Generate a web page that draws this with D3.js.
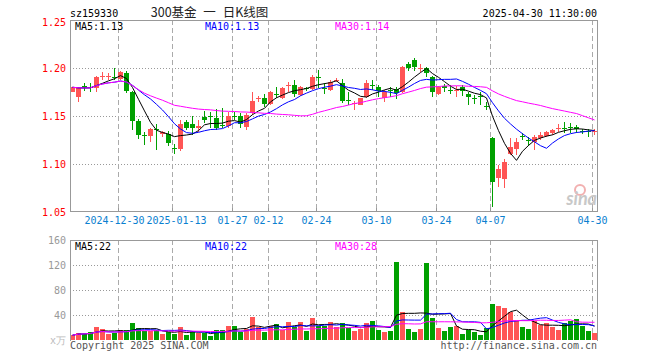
<!DOCTYPE html>
<html>
<head>
<meta charset="utf-8">
<script src="https://cdn.jsdelivr.net/npm/d3@7"></script>
<style>
body { margin: 0; background: #fff; }
svg { display: block; }
text { font-family: "DejaVu Sans Mono", monospace; font-size: 10px; }
</style>
</head>
<body>
<div id="chart"></div>
<script>
// daily bars, 2024-12-18 .. 2025-04-30
var dates = [
  "2024-12-18","2024-12-19","2024-12-20","2024-12-23","2024-12-24","2024-12-25","2024-12-26","2024-12-27",
  "2024-12-30","2024-12-31","2025-01-02","2025-01-03","2025-01-06","2025-01-07","2025-01-08","2025-01-09",
  "2025-01-10","2025-01-13","2025-01-14","2025-01-15","2025-01-16","2025-01-17","2025-01-20","2025-01-21",
  "2025-01-22","2025-01-23","2025-01-24","2025-01-27","2025-02-05","2025-02-06","2025-02-07","2025-02-10",
  "2025-02-11","2025-02-12","2025-02-13","2025-02-14","2025-02-17","2025-02-18","2025-02-19","2025-02-20",
  "2025-02-21","2025-02-24","2025-02-25","2025-02-26","2025-02-27","2025-02-28","2025-03-03","2025-03-04",
  "2025-03-05","2025-03-06","2025-03-07","2025-03-10","2025-03-11","2025-03-12","2025-03-13","2025-03-14",
  "2025-03-17","2025-03-18","2025-03-19","2025-03-20","2025-03-21","2025-03-24","2025-03-25","2025-03-26",
  "2025-03-27","2025-03-28","2025-03-31","2025-04-01","2025-04-02","2025-04-03","2025-04-07","2025-04-08",
  "2025-04-09","2025-04-10","2025-04-11","2025-04-14","2025-04-15","2025-04-16","2025-04-17","2025-04-18",
  "2025-04-21","2025-04-22","2025-04-23","2025-04-24","2025-04-25","2025-04-28","2025-04-29","2025-04-30"
];

var open = [
  1.1754,1.170,1.1815,1.1802,1.179,1.1912,1.1912,1.1905,1.189,1.195,1.175,1.145,1.1302,1.129,1.1365,1.131,
  1.131,1.1165,1.116,1.144,1.142,1.138,1.149,1.1495,1.148,1.141,1.140,1.150,1.150,1.139,1.153,1.168,
  1.169,1.162,1.173,1.1685,1.181,1.182,1.172,1.179,1.178,1.1905,1.179,1.177,1.187,1.184,1.1668,1.1635,
  1.1615,1.170,1.1825,1.1806,1.1684,1.1775,1.1778,1.1755,1.204,1.208,1.1995,1.1995,1.191,1.173,1.1815,1.1775,
  1.1765,1.180,1.1726,1.1685,1.1705,1.1605,1.1275,1.085,1.0845,1.110,1.1157,1.1287,1.1252,1.1233,1.1268,1.129,
  1.132,1.1378,1.1375,1.1382,1.139,1.1345,1.134,1.1335
];
var high = [
  1.1806,1.1795,1.184,1.184,1.192,1.196,1.1945,1.1997,1.197,1.197,1.176,1.147,1.133,1.137,1.142,1.134,
  1.134,1.121,1.146,1.146,1.150,1.146,1.1555,1.1545,1.157,1.158,1.154,1.154,1.1528,1.153,1.175,1.171,
  1.1726,1.176,1.1806,1.1805,1.185,1.1875,1.181,1.1806,1.1927,1.198,1.184,1.1875,1.1892,1.1885,1.1754,1.1656,
  1.169,1.1875,1.1875,1.182,1.177,1.1806,1.1806,1.2025,1.206,1.210,1.204,1.201,1.192,1.181,1.183,1.182,
  1.1816,1.182,1.1745,1.172,1.1745,1.165,1.128,1.099,1.1053,1.1268,1.1268,1.132,1.1285,1.130,1.133,1.134,
  1.1365,1.1413,1.1434,1.1425,1.1407,1.136,1.136,1.1365
];
var low = [
  1.1747,1.165,1.176,1.1754,1.175,1.188,1.1875,1.1875,1.188,1.174,1.135,1.126,1.120,1.123,1.115,1.128,
  1.119,1.110,1.114,1.135,1.130,1.133,1.1424,1.138,1.135,1.137,1.138,1.146,1.137,1.135,1.151,1.165,
  1.1597,1.161,1.1684,1.168,1.1747,1.170,1.171,1.176,1.177,1.179,1.1726,1.176,1.185,1.164,1.1615,1.156,
  1.161,1.169,1.177,1.170,1.165,1.170,1.168,1.1736,1.197,1.197,1.196,1.191,1.170,1.172,1.1747,1.173,
  1.170,1.171,1.1615,1.163,1.161,1.156,1.0555,1.0757,1.0755,1.1094,1.1094,1.125,1.119,1.1146,1.125,1.128,
  1.130,1.133,1.132,1.132,1.132,1.131,1.1285,1.130
];
var close = [
  1.1799,1.1788,1.179,1.1798,1.191,1.1917,1.1916,1.190,1.196,1.176,1.145,1.130,1.1295,1.1365,1.135,1.133,
  1.122,1.116,1.142,1.138,1.138,1.140,1.146,1.149,1.138,1.140,1.150,1.149,1.1415,1.151,1.1655,1.169,
  1.163,1.175,1.1725,1.1795,1.182,1.1726,1.1806,1.1785,1.191,1.190,1.1785,1.1858,1.188,1.1656,1.1665,1.164,
  1.1684,1.184,1.182,1.176,1.1754,1.177,1.1736,1.201,1.1997,1.2014,1.2005,1.195,1.1745,1.180,1.179,1.177,
  1.1775,1.176,1.170,1.168,1.170,1.160,1.081,1.0948,1.1018,1.118,1.1233,1.1284,1.125,1.1285,1.130,1.133,
  1.1354,1.138,1.137,1.137,1.136,1.134,1.1335,1.134
];
// volume, 万
var volume = [
  7.7,11.2,10.3,12.8,21.5,18,9.2,11.2,15.4,15.4,27.6,19.5,13.8,13.8,16.3,9.2,
  12.8,9.6,20.4,7.7,14.4,11.2,11.2,6.6,15.4,15.4,23,23,12.8,18,36.9,20.4,
  12.8,23,26.1,15.4,29.2,20.4,29.2,14.4,34.8,23,23,29.2,20.4,27.6,18.9,14.3,
  17.4,27.6,31.2,15.8,12.8,14.3,124.4,44.5,17.4,12.8,17.4,122.9,35.3,18.9,14.3,20.4,
  23,9.7,16.4,12.8,8.2,18.9,58.4,53.8,50.7,45,30.7,20.4,17.4,30.7,23.5,26.6,
  20.4,16.4,27.6,29.7,33.8,22,14.3,11.2
];

var tickDates = ["2024-12-30","2025-01-13","2025-01-27","2025-02-12","2025-02-24","2025-03-10","2025-03-24","2025-04-07","2025-04-30"];
var tickLabels = ["2024-12-30","2025-01-13","01-27","02-12","02-24","03-10","03-24","04-07","04-30"];
var priceTicks = [1.05, 1.10, 1.15, 1.20, 1.25];
var volTicks = [40, 80, 120, 160];

var width = 660,
    height = 360,
    left = 70,
    right = 597;

var up = "#ff5555", down = "#00a000";
var maColors = {5: "#000000", 10: "#0000ff", 30: "#ff00ff"};

function movingAvg(arr, n) {
  return arr.map(function(d, i) { return d3.mean(arr.slice(Math.max(0, i - n + 1), i + 1)); });
}
function trunc(v, k) {
  var m = Math.pow(10, k);
  return (Math.floor(v * m + 1e-9) / m).toFixed(k);
}

var x = d3.scalePoint()
    .domain(dates)
    .range([left, left + 6 * (dates.length - 1)]);

var yP = d3.scaleLinear().domain([1.05, 1.25]).range([212, 20]);
var yV = d3.scaleLinear().domain([0, 160]).range([340, 240]);

var svg = d3.select("#chart").append("svg")
    .attr("width", width)
    .attr("height", height);

// header
svg.append("text").attr("x", 70).attr("y", 16.5).attr("fill", "#000").text("sz159330");
svg.append("text").attr("x", 209.5).attr("y", 17).attr("text-anchor", "middle")
    .style("font-family", "'Noto Sans CJK SC', sans-serif").style("font-size", "12.5px")
    .attr("word-spacing", "4").attr("fill", "#222").text("300基金 一 日K线图");
svg.append("text").attr("x", 597).attr("y", 16.5).attr("text-anchor", "end").attr("fill", "#000").text("2025-04-30 11:30:00");

// grids
var grid = svg.append("g").attr("shape-rendering", "crispEdges");
grid.selectAll(".hp").data([1.10, 1.15, 1.20]).enter().append("line")
    .attr("x1", left).attr("x2", right)
    .attr("y1", function(d) { return Math.round(yP(d)) + 0.5; })
    .attr("y2", function(d) { return Math.round(yP(d)) + 0.5; })
    .attr("stroke", "#999").attr("stroke-dasharray", "1,2");
grid.selectAll(".hv").data([40, 80, 120]).enter().append("line")
    .attr("x1", left).attr("x2", right)
    .attr("y1", function(d) { return yV(d) + 0.5; })
    .attr("y2", function(d) { return yV(d) + 0.5; })
    .attr("stroke", "#999").attr("stroke-dasharray", "1,2");
tickDates.forEach(function(d) {
  [[20, 211], [240, 340]].forEach(function(r) {
    grid.append("line")
        .attr("x1", x(d) + 0.5).attr("x2", x(d) + 0.5)
        .attr("y1", r[0]).attr("y2", r[1])
        .attr("stroke", "#aaa").attr("stroke-dasharray", "5,3");
  });
});

// price axes
var xAxis = svg.append("g")
    .attr("transform", "translate(0,211)")
    .call(d3.axisBottom(x).tickValues(tickDates)
      .tickFormat(function(d, i) { return tickLabels[i]; })
      .tickSize(-3).tickPadding(6));
xAxis.select(".domain").remove();
xAxis.selectAll("line").attr("stroke", "#999");
xAxis.selectAll("text").attr("fill", "#0a80d0").style("font-family", "'DejaVu Sans Mono', monospace").style("font-size", "10px")
    .attr("dx", function(d, i) { return i == 0 ? -4 : i == 1 ? 4 : 0; });

var yAxis = svg.append("g")
    .attr("transform", "translate(70,0)")
    .call(d3.axisLeft(yP).tickValues(priceTicks).tickFormat(d3.format(".2f")).tickSize(0).tickPadding(4));
yAxis.select(".domain").remove();
yAxis.selectAll("text").attr("fill", "#ff0000").style("font-family", "'DejaVu Sans Mono', monospace").style("font-size", "10px")
    .attr("dy", function(d) { return d == 1.25 ? "0.5em" : "0.32em"; });

var vAxis = svg.append("g")
    .attr("transform", "translate(70,0)")
    .call(d3.axisLeft(yV).tickValues(volTicks).tickFormat(d3.format("d")).tickSize(0).tickPadding(4));
vAxis.select(".domain").remove();
vAxis.selectAll("text").attr("fill", "#999").style("font-family", "'DejaVu Sans Mono', monospace").style("font-size", "10px");
svg.append("text").attr("x", 66).attr("y", 344).attr("text-anchor", "end").attr("fill", "#bbb").text("x万");

// watermark
svg.append("circle").attr("cx", 580).attr("cy", 190).attr("r", 5)
    .attr("fill", "none").attr("stroke", "#f2b0b0").attr("stroke-width", 2);
svg.append("text").attr("x", 597).attr("y", 205).attr("text-anchor", "end")
    .style("font-family", "Lato, sans-serif").style("font-size", "18px")
    .style("font-weight", "bold").style("font-style", "italic")
    .attr("fill", "#c8c8c8").text("sina");

// candles
var bars = dates.map(function(d, i) {
  return {date: d, o: open[i], h: high[i], l: low[i], c: close[i], v: volume[i]};
});
function col(d) { return d.c >= d.o ? up : down; }

var candle = svg.append("g").attr("shape-rendering", "crispEdges")
    .selectAll("g").data(bars).enter().append("g");
candle.append("line")
    .attr("x1", function(d) { return x(d.date) + 2.5; })
    .attr("x2", function(d) { return x(d.date) + 2.5; })
    .attr("y1", function(d) { return Math.round(yP(d.h)); })
    .attr("y2", function(d) { return Math.round(yP(d.l)); })
    .attr("stroke", col);
candle.append("rect")
    .attr("x", function(d) { return x(d.date); })
    .attr("width", 5)
    .attr("y", function(d) { return Math.round(yP(Math.max(d.o, d.c))); })
    .attr("height", function(d) {
      return Math.max(1, Math.round(yP(Math.min(d.o, d.c))) - Math.round(yP(Math.max(d.o, d.c))));
    })
    .attr("fill", col);

// volume bars
svg.append("g").attr("shape-rendering", "crispEdges")
    .selectAll("rect").data(bars).enter().append("rect")
    .attr("x", function(d) { return x(d.date); })
    .attr("width", 5)
    .attr("y", function(d) { return yV(d.v); })
    .attr("height", function(d) { return yV(0) - yV(d.v); })
    .attr("fill", col);

// moving averages
[5, 10, 30].forEach(function(n) {
  var pm = movingAvg(close, n), vm = movingAvg(volume, n);
  var lineP = d3.line().x(function(d, i) { return x(dates[i]) + 2.5; }).y(function(d) { return yP(d); });
  var lineV = d3.line().x(function(d, i) { return x(dates[i]) + 2.5; }).y(function(d) { return yV(d); });
  svg.append("path").attr("d", lineP(pm)).attr("fill", "none").attr("stroke", maColors[n]).attr("stroke-width", 1);
  svg.append("path").attr("d", lineV(vm)).attr("fill", "none").attr("stroke", maColors[n]).attr("stroke-width", 1);
  var lx = n == 5 ? 75 : n == 10 ? 205 : 335;
  svg.append("text").attr("x", lx).attr("y", 29.5).attr("fill", maColors[n])
      .text("MA" + n + ":" + trunc(pm[pm.length - 1], 2));
  svg.append("text").attr("x", lx).attr("y", 249.5).attr("fill", maColors[n])
      .text("MA" + n + ":" + trunc(vm[vm.length - 1], 0));
});

// frames
var frame = svg.append("g").attr("shape-rendering", "crispEdges").attr("fill", "none").attr("stroke", "#999");
frame.append("rect").attr("x", 70.5).attr("y", 20.5).attr("width", right - left).attr("height", 191);
frame.append("path").attr("d", "M70.5,341V240.5H597.5V341");

// footer
svg.append("text").attr("x", 70).attr("y", 349).attr("fill", "#555").text("Copyright 2025 SINA.COM");
svg.append("text").attr("x", 597).attr("y", 349).attr("text-anchor", "end").attr("fill", "#555").text("http://finance.sina.com.cn");
</script>
</body>
</html>
